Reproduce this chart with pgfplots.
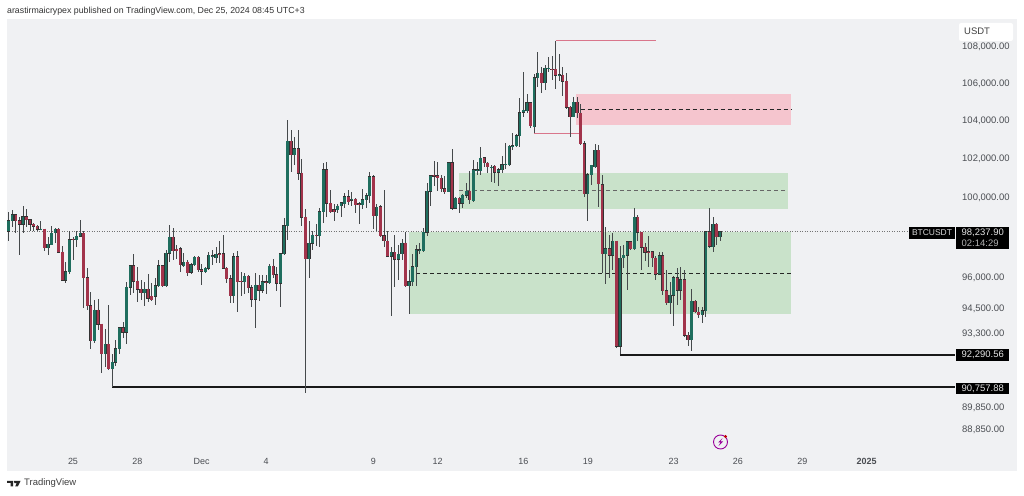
\documentclass[border=0pt]{standalone}
\usepackage{fontspec}
\setmainfont{Liberation Sans}
\usepackage{pgfplots}
\usepackage{pgfplotstable}
\pgfplotsset{compat=1.18}
\definecolor{panel}{HTML}{F0F1F3}
\definecolor{upc}{HTML}{1F6E5E}
\definecolor{downc}{HTML}{A2344B}
\definecolor{wick}{HTML}{45494B}
\definecolor{zoneg}{HTML}{C9E2CA}
\definecolor{zoner}{HTML}{F5C5CE}
\definecolor{pinkl}{HTML}{D9768B}
\definecolor{labelc}{HTML}{4A4D52}

% 4h candles, i = 0 is 25 Nov 00:00, prices in USDT
% the y axis runs in thousands: a log axis this narrow overflows TeX dimensions otherwise
\pgfplotstableread{
i o h l c
-18 98250 99220 97780 98790
-17 98790 99340 98470 99100
-16 99100 99140 98170 98800
-15 98800 98970 97075 98600
-14 98600 99525 98170 99000
-13 99000 99375 98470 98835
-12 98835 98870 98250 98600
-11 98600 98700 98250 98500
-10 98500 98585 98285 98350
-9 98330 98785 98330 98370
-8 98370 98370 97300 97435
-7 97435 97970 97090 97620
-6 97600 98500 97570 98170
-5 98170 98400 97670 98370
-4 98370 98400 97170 97220
-3 97220 97530 95795 95825
-2 95825 96710 95700 96250
-1 96250 98300 96155 97833
0 97870 97970 96840 97833
1 97833 98250 97470 98000
2 98000 98835 97970 98150
3 98150 98250 94490 95955
4 95955 96430 94370 94610
5 94610 95260 92550 92940
6 92940 94890 92815 94390
7 94390 94920 93450 93720
8 93720 93720 91410 92300
9 92300 93480 91690 92750
10 92750 94645 91530 91610
11 91620 92310 90758 91905
12 91905 92970 91750 92550
13 92550 93605 92310 93540
14 93540 93830 93050 93320
15 93320 95775 92785 95500
16 95500 96595 95130 96560
17 96560 97135 95210 95795
18 95795 96510 94790 95405
19 95405 95860 94890 95240
20 95240 95730 94610 95405
21 95405 96155 94790 94950
22 95050 95700 94805 94890
23 95050 95940 94630 95565
24 95565 96810 95530 96545
25 96545 96595 95530 95565
26 95565 97335 95530 97170
27 97170 98550 96710 97970
28 97970 98400 96810 97300
29 97370 97585 96875 97300
30 97400 97470 96235 96595
31 96545 97170 96480 96710
32 96730 96840 96020 96200
33 96215 96680 96155 96595
34 96595 97040 96545 96955
35 96955 97005 96265 96350
36 96350 96630 95615 96285
37 96265 96480 96190 96410
38 96410 97205 96350 97055
39 97005 97335 96595 97040
40 96940 97470 96680 97125
41 97150 97785 96680 97125
42 97135 98080 96380 96410
43 96410 96510 95700 95920
44 95920 96070 94755 95085
45 95085 97170 94725 96990
46 96990 97285 94320 95760
47 95795 96250 95085 95760
48 95760 96185 95180 96020
49 96020 96100 95240 95480
50 95480 95615 94560 94920
51 94920 96185 93525 95600
52 95600 96100 94805 95355
53 95355 96085 95240 95775
54 95775 96100 95165 95700
55 95700 96645 95665 96530
56 96530 96875 95940 96120
57 96120 96480 95325 95680
58 95680 97170 94560 97135
59 97135 98920 97090 98535
60 98535 104003 97833 102880
61 102880 103474 101270 102165
62 102165 103090 101645 102490
63 102490 103474 100871 101215
64 101215 101940 98535 98970
65 98970 99405 90480 96890
66 96890 98750 95940 97670
67 97670 98250 97335 98070
68 98070 98635 97530 98035
69 98035 99425 97470 99255
70 99255 101765 98700 101386
71 101386 101815 99000 99680
72 99680 100358 99205 99255
73 99340 99645 98800 99255
74 99340 99645 99205 99540
75 99540 99760 99000 99695
76 99645 100190 99425 100000
77 100000 100358 99595 99760
78 99815 100240 99560 99885
79 99885 99935 99205 99610
80 99645 99710 98620 99610
81 99610 100425 99375 99848
82 99848 100190 99425 100050
83 100050 101285 99680 101040
84 101040 101130 98370 99035
85 99035 99645 98300 99475
86 99505 99595 98000 98035
87 98035 100358 97470 97770
88 97770 98300 96975 97005
89 97005 97470 94115 97205
90 97205 98080 95530 96875
91 96875 97585 95860 97125
92 97135 97870 96840 97670
93 97670 98215 95530 95565
94 95565 96348 94215 95775
95 95775 97135 95580 96510
96 96510 97585 95580 97335
97 97285 97670 97135 97335
98 97285 98420 97250 98215
99 98215 100730 98000 100290
100 100290 101075 99560 101075
101 101095 101850 100560 101060
102 101075 101785 100290 100960
103 100960 101115 100255 100425
104 100425 101075 100155 100270
105 100270 101785 100255 101750
106 101750 102490 99340 99425
107 99425 99965 99375 99935
108 99935 99965 99175 99680
109 99680 100155 99425 100085
110 100085 100700 99935 100290
111 100290 101300 99645 99848
112 99800 101870 99760 101386
113 101370 101815 101095 101400
114 101350 102595 101095 101990
115 102005 102075 101555 101735
116 101735 101815 101215 101525
117 101505 101645 100755 101540
118 101575 101645 100730 101250
119 101250 101475 100560 101386
120 101386 102110 101215 101645
121 101645 102775 101440 101680
122 101645 102685 101595 102615
123 102615 103300 102425 102650
124 102630 103265 102565 103160
125 103160 105160 102565 104390
126 104410 106560 104180 104520
127 104480 105390 104390 104925
128 104925 104925 103565 103685
129 103650 106455 103300 106255
130 106255 107690 105750 106510
131 106510 106865 105430 106000
132 106000 106960 105605 106780
133 106740 107380 106595 106780
134 106740 107450 106145 106705
135 106725 108275 105640 106400
136 106380 107560 106105 106420
137 106400 106835 105285 106075
138 106075 106510 104590 104680
139 104680 104765 103090 104180
140 104180 105245 104145 104945
141 104945 105245 104095 104360
142 104360 104855 102685 102740
143 102740 102910 100015 100155
144 100155 101215 98750 101140
145 101140 101660 100615 101610
146 101555 102740 101475 102390
147 102390 102685 99475 100650
148 100615 101130 96185 97125
149 97125 98450 95650 97385
150 97385 98080 95940 97055
151 97055 98170 96350 97770
152 97770 97785 92580 92660
153 92660 97500 92290 96925
154 96925 97585 96430 97055
155 97055 97735 95372 97735
156 97735 97770 97335 97385
157 97385 99455 97335 98970
158 98970 99085 97750 98200
159 98200 98200 96350 97470
160 97470 97670 96760 97205
161 97240 98000 96510 97205
162 97240 97300 96480 96925
163 96925 97005 95860 96140
164 96140 97250 96100 97040
165 97040 97250 95130 95325
166 95325 96348 94645 94755
167 94755 95730 94215 95115
168 95115 96020 93650 95955
169 95955 96430 94645 95340
170 95340 96480 94887 95860
171 95860 96348 93100 93180
172 93180 93365 92655 92972
173 92972 95435 92465 94805
174 94805 94855 94250 94295
175 94295 94560 94005 94165
176 94165 94560 93765 94360
177 94360 98240 94050 98235
178 98235 99425 97470 97500
179 97500 98970 97205 98600
180 98600 98670 97585 97970
181 97970 98285 97800 98238
}\candles

\pgfplotsset{
  wicks/.style={draw=none, no markers, forget plot,
    error bars/y dir=both, error bars/y explicit, error bars/error mark=none,
    error bars/error bar style={draw=wick, line width=0.8bp}},
  bodies/.style n args={2}{draw=none, no markers, forget plot,
    error bars/y dir=minus, error bars/y explicit, error bars/error mark=none,
    error bars/error bar style={draw=#1, line width=#2}},
  zone/.style={fill=#1, draw=none, forget plot},
}

\begin{document}
\begin{tikzpicture}[x=1bp,y=1bp]
\path[use as bounding box, fill=white] (0,0) rectangle (1024,496);
\begin{axis}[
  at={(7bp,25bp)}, anchor=south west,
  scale only axis, width=1010bp, height=452bp,
  ymode=log,
  xmin=-18.46, xmax=264.06,
  ymin=86.966, ymax=109.496,
  axis background/.style={fill=panel},
  axis line style={draw=none},
  major tick length=0pt, minor tick length=0pt,
  xtick={0,18,36,54,84,102,126,144,168,186,204,222},
  xticklabels={25,28,Dec,4,9,12,16,19,23,26,29,\textbf{2025}},
  xticklabel style={anchor=base, yshift=6.5bp, font=\fontsize{9}{10}\selectfont, text=labelc},
  yticklabel pos=right,
  ytick={108,106,104,102,100,96,94.5,93.3,89.85,88.85},
  yticklabels={{108,000.00},{106,000.00},{104,000.00},{102,000.00},{100,000.00},{96,000.00},{94,500.00},{93,300.00},{89,850.00},{88,850.00}},
  yticklabel style={anchor=base west, inner sep=0pt, xshift=-55bp, yshift=-4bp, font=\fontsize{9.5}{10}\selectfont, text=labelc},
]
% zones
\addplot[zone=zoneg] coordinates {(94,98.238) (200.8,98.238) (200.8,94.215) (94,94.215)} -- cycle;
\addplot[zone=zoneg] coordinates {(108,101.23) (200,101.23) (200,99.39) (108,99.39)} -- cycle;
\addplot[zone=zoner] coordinates {(140.6,105.39) (200.8,105.39) (200.8,103.74) (140.6,103.74)} -- cycle;
% midlines
\addplot[black!85, line width=0.7bp, dash pattern=on 4bp off 3bp, forget plot] coordinates {(96,96.185) (200.8,96.185)};
\addplot[black!60, line width=0.7bp, dash pattern=on 4bp off 3bp, forget plot] coordinates {(108,100.32) (200,100.32)};
\addplot[black!85, line width=0.7bp, dash pattern=on 4bp off 3bp, forget plot] coordinates {(142,104.57) (200.8,104.57)};
% last price
\addplot[black!55, line width=0.5bp, dotted, forget plot] coordinates {(-18.46,98.2379) (233.6,98.2379)};
% swing lines
\addplot[pinkl, line width=1.1bp, forget plot] coordinates {(135,108.275) (163.1,108.275)};
\addplot[pinkl, line width=1.1bp, forget plot] coordinates {(129,103.3) (142,103.3)};
\addplot[black!90, line width=1.4bp, forget plot] coordinates {(153,92.25) (246.7,92.25)};
\addplot[black!90, line width=1.4bp, forget plot] coordinates {(11,90.75788) (246.7,90.75788)};
% candles: a dark body slightly longer than the open-close span, then the colour on top
\addplot[wicks] table[x=i, y expr=\thisrow{c}/1000, y error plus expr=(\thisrow{h}-\thisrow{c})/1000, y error minus expr=(\thisrow{c}-\thisrow{l})/1000] {\candles};
\addplot[bodies={black!80}{3.2bp}, x filter/.expression={\thisrow{c}>=\thisrow{o} ? x : nan}]
  table[x=i, y expr=(\thisrow{c}+20)/1000, y error minus expr=(\thisrow{c}-\thisrow{o}+40)/1000] {\candles};
\addplot[bodies={upc}{2.5bp}, x filter/.expression={\thisrow{c}>=\thisrow{o} ? x : nan}]
  table[x=i, y expr=\thisrow{c}/1000, y error minus expr=(\thisrow{c}-\thisrow{o})/1000] {\candles};
\addplot[bodies={black!80}{3.2bp}, x filter/.expression={\thisrow{c}<\thisrow{o} ? x : nan}]
  table[x=i, y expr=(\thisrow{o}+20)/1000, y error minus expr=(\thisrow{o}-\thisrow{c}+40)/1000] {\candles};
\addplot[bodies={downc}{2.5bp}, x filter/.expression={\thisrow{c}<\thisrow{o} ? x : nan}]
  table[x=i, y expr=\thisrow{o}/1000, y error minus expr=(\thisrow{o}-\thisrow{c})/1000] {\candles};
\end{axis}
% header and footer
\node[anchor=west, inner sep=0pt, font=\fontsize{8.8}{10}\selectfont, text=black!80] at (7,485) {arastirmaicrypex published on TradingView.com, Dec 25, 2024 08:45 UTC+3};
\node[anchor=west, inner sep=0pt, font=\fontsize{9.5}{10}\selectfont, text=black!75] at (24,12.5) {TradingView};
\fill[black!85] (7,15) -- (13,15) -- (13,9.5) -- (10.5,9.5) -- (10.5,13) -- (7,13) -- cycle;
\fill[black!85] (13.8,15) -- (20.5,15) -- (17.8,9.5) -- (15.2,9.5) -- (16.6,12.8) -- (14.5,12.8) -- cycle;
% price scale boxes
\fill[white, rounded corners=2bp] (959,455) rectangle (1013,473);
\node[anchor=west, inner sep=0pt, font=\fontsize{9.5}{10}\selectfont, text=black!75] at (964,464.5) {USDT};
\fill[black] (909,257) rectangle (955,269);
\node[inner sep=0pt, text=white!85!black, font=\fontsize{8.5}{10}\selectfont] at (932,263) {BTCUSDT};
\fill[black] (956,247) rectangle (1009,269);
\node[anchor=west, inner sep=0pt, text=white!90!black, font=\fontsize{9.5}{10}\selectfont] at (961.5,263) {98,237.90};
\node[anchor=west, inner sep=0pt, text=white!70!black, font=\fontsize{9.5}{10}\selectfont] at (961.5,252.5) {02:14:29};
\fill[black] (956,134.5) rectangle (1009,147);
\node[anchor=west, inner sep=0pt, text=white!90!black, font=\fontsize{9.5}{10}\selectfont] at (961.5,141) {92,290.56};
\fill[black] (956,102) rectangle (1009,113);
\node[anchor=west, inner sep=0pt, text=white!90!black, font=\fontsize{9.5}{10}\selectfont] at (961.5,107.5) {90,757.88};
% lightning badge
\draw[violet!80!magenta, line width=0.9bp] (720.5,54) circle (7bp);
\fill[violet!80!magenta] (722.5,58) -- (718,53.5) -- (720.5,53.5) -- (718.5,50) -- (723,54.5) -- (720.5,54.5) -- cycle;
\fill[red!75!black] (725.5,59.5) circle (1.7bp);
\end{tikzpicture}
\end{document}
